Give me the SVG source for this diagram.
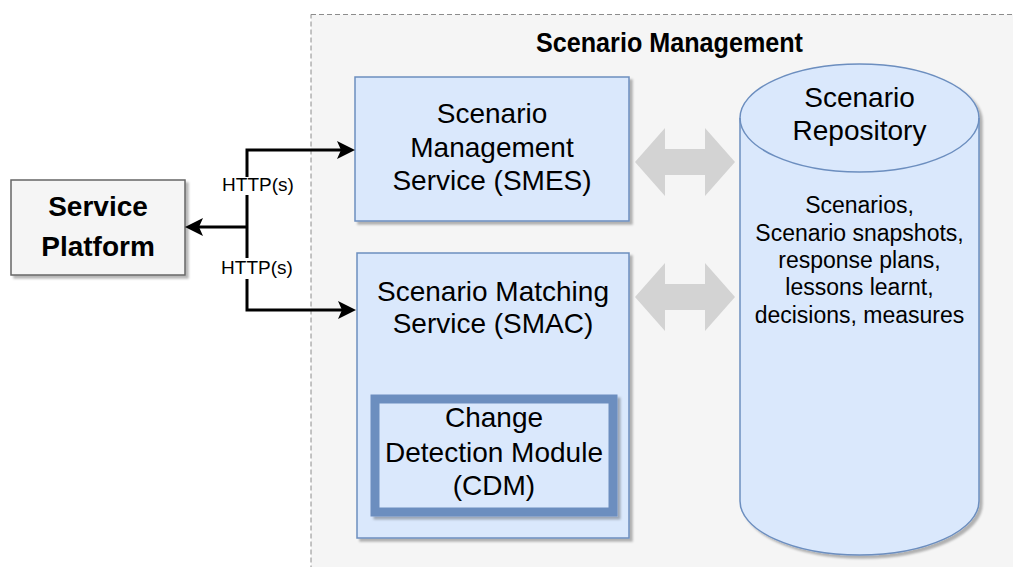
<svg xmlns="http://www.w3.org/2000/svg" width="1013" height="567" viewBox="0 0 1013 567">
  <style>
    .lbl { font-family: "Liberation Sans", Arial, sans-serif; font-size: 28px; fill: #000; text-anchor: middle; }
    .bold { font-weight: bold; }
    .small { font-size: 23px; }
    .edge-lbl { font-family: "Liberation Sans", Arial, sans-serif; font-size: 19px; fill: #000; text-anchor: middle; }
    .blue { fill: #dae8fc; stroke: #6c8ebf; stroke-width: 1.5; }
    .wire { fill: none; stroke: #000; stroke-width: 3; }
    .fat { fill: #d3d3d3; stroke: none; }
  </style>
  <defs>
    <filter id="shadow" x="-10%" y="-10%" width="130%" height="130%">
      <feDropShadow dx="3" dy="3" stdDeviation="1.2" flood-color="#000" flood-opacity="0.28"/>
    </filter>
    <marker id="head" viewBox="0 0 18 18" refX="4" refY="9" markerWidth="18" markerHeight="18" markerUnits="userSpaceOnUse" orient="auto">
      <path d="M0 0 L18 9 L0 18 L4 9 Z" fill="#000"/>
    </marker>
  </defs>

  <rect width="1013" height="567" fill="#ffffff"/>

  <!-- Scenario Management container -->
  <g id="scenario-management">
    <rect x="311" y="14.5" width="730" height="580" fill="#f5f5f5" stroke="#8c8c8c" stroke-width="1" stroke-dasharray="5 3"/>
    <text class="lbl bold" x="669.5" y="52" textLength="267" lengthAdjust="spacingAndGlyphs">Scenario Management</text>
  </g>

  <!-- Service Platform -->
  <g id="service-platform">
    <rect x="11" y="180" width="174" height="95" fill="#f5f5f5" stroke="#666666" stroke-width="1.5" filter="url(#shadow)"/>
    <text class="lbl bold" x="98" y="216">Service</text>
    <text class="lbl bold" x="98" y="256">Platform</text>
  </g>

  <!-- SMES -->
  <g id="smes">
    <rect class="blue" x="355" y="77" width="274" height="144" filter="url(#shadow)"/>
    <text class="lbl" x="492" y="123">Scenario</text>
    <text class="lbl" x="492" y="157">Management</text>
    <text class="lbl" x="492" y="190">Service (SMES)</text>
  </g>

  <!-- SMAC -->
  <g id="smac">
    <rect class="blue" x="357" y="253" width="272" height="285" filter="url(#shadow)"/>
    <text class="lbl" x="493" y="301">Scenario Matching</text>
    <text class="lbl" x="493" y="333">Service (SMAC)</text>
  </g>

  <!-- Change Detection Module -->
  <g id="cdm">
    <rect x="375" y="399" width="238" height="113" fill="#dae8fc" stroke="#6c8ebf" stroke-width="9" filter="url(#shadow)"/>
    <text class="lbl" x="494" y="427">Change</text>
    <text class="lbl" x="494" y="462">Detection Module</text>
    <text class="lbl" x="494" y="495">(CDM)</text>
  </g>

  <!-- Scenario Repository -->
  <g id="scenario-repository">
    <path class="blue" d="M740 118 A119.5 54 0 0 1 979 118 L979 501 A119.5 54 0 0 1 740 501 Z" filter="url(#shadow)"/>
    <path d="M740 118 A119.5 54 0 0 0 979 118" fill="none" stroke="#6c8ebf" stroke-width="1.5"/>
    <text class="lbl" x="859.5" y="107">Scenario</text>
    <text class="lbl" x="859.5" y="140">Repository</text>
    <text class="lbl small" x="859.5" y="213">Scenarios,</text>
    <text class="lbl small" x="859.5" y="241">Scenario snapshots,</text>
    <text class="lbl small" x="859.5" y="268">response plans,</text>
    <text class="lbl small" x="859.5" y="295">lessons learnt,</text>
    <text class="lbl small" x="859.5" y="323">decisions, measures</text>
  </g>

  <!-- Connectors -->
  <g id="connectors">
    <path class="wire" d="M247 227 L247 150 L341 150" marker-end="url(#head)"/>
    <path class="wire" d="M247 227 L247 310 L342 310" marker-end="url(#head)"/>
    <path class="wire" d="M247 227 L199 227" marker-end="url(#head)"/>

    <rect x="221" y="177" width="74" height="18" fill="#ffffff"/>
    <text class="edge-lbl" x="258" y="191">HTTP(s)</text>
    <rect x="220" y="258" width="74" height="21" fill="#ffffff"/>
    <text class="edge-lbl" x="257" y="274">HTTP(s)</text>

    <!-- data exchange between services and repository -->
    <path class="fat" d="M635 162 L665 128 L665 149 L705 149 L705 128 L735 162 L705 196 L705 175 L665 175 L665 196 Z"/>
    <path class="fat" d="M635 297 L665 263 L665 284 L705 284 L705 263 L735 297 L705 331 L705 310 L665 310 L665 331 Z"/>
  </g>
</svg>
